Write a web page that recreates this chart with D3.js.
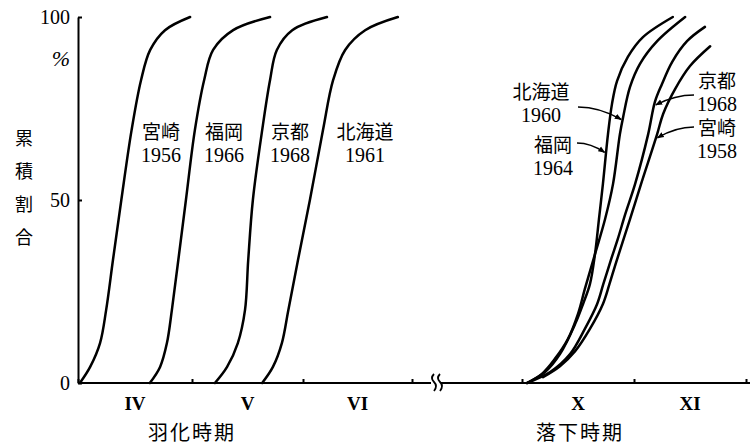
<!DOCTYPE html>
<meta charset="utf-8">
<script src="https://d3js.org/d3.v7.min.js"></script>
<style>
body { margin: 0; background: #fff; }
svg { display: block; }
.curve { fill: none; stroke: #000; stroke-width: 2.5px; stroke-linecap: round; }
.axis path, .axis line { stroke: #000; stroke-width: 2px; }
.num { font-family: "Liberation Serif", serif; font-size: 20px; fill: #000; }
.kanji { font-family: "Noto Sans CJK JP", sans-serif; font-size: 19px; fill: #000; }
.roman { font-family: "Liberation Serif", serif; font-size: 19px; font-weight: bold; }
</style>
<div id="chart"></div>
<script>
// x values are day of year (Apr 1 = 91 ... Dec 1 = 335), y values are cumulative %
var monthDays = [91, 121, 152, 182, 274, 305, 335];
var monthNames = ["IV", "V", "VI", "X", "XI"];
var monthSpans = [[91, 121], [121, 152], [152, 182], [274, 305], [305, 335]];
var yTicks = [0, 50, 100];

// 羽化時期 (emergence)
var miyazaki1956 = [[91.5,0],[94.2,4.4],[96.8,10.9],[98.4,19.9],[100.2,33.6],[102.4,50],[105.1,69.1],[107.6,82.8],[110.0,91],[113.9,96.4],[120.5,100]];
var fukuoka1966  = [[109.9,0],[112.6,4.4],[114.4,10.9],[115.7,19.9],[117.4,33.6],[119.4,50],[121.8,69.1],[124.4,82.8],[126.9,91],[132.5,96.4],[142.8,100]];
var kyoto1968    = [[127.4,0],[130.8,4.4],[133.8,10.9],[135.8,19.9],[136.7,33.6],[138.0,50],[140.6,69.1],[142.8,82.8],[144.7,91],[149.0,96.4],[158.6,100]];
var hokkaido1961 = [[140.6,0],[143.6,4.4],[146.1,10.9],[147.9,19.9],[150.6,33.6],[153.9,50],[157.5,69.1],[160.3,82.8],[163.6,91],[169.1,96.4],[178.1,100]];

// 落下時期 (drop)
var fukuoka1964  = [[275.4,0],[280.4,3.0],[284.5,7.9],[288.7,16.1],[290.9,21.6],[292.8,27.0],[294.2,35.2],[295.3,44.8],[296.4,54.4],[297.8,68.0],[298.9,76.2],[300.3,82.5],[303.3,89.1],[307.4,94.5],[315.4,100]];
var hokkaido1960 = [[275.4,0],[279.5,2.5],[283.1,6.6],[286.7,12.0],[289.5,18.9],[291.4,25.7],[294.2,35.2],[297.0,44.8],[299.2,54.4],[301.1,68.0],[302.0,72.7],[303.9,80.9],[306.6,87.2],[311.2,93.4],[318.7,100]];
var kyoto1968b   = [[275.4,0],[281.8,3.0],[287.3,7.9],[291.4,14.8],[294.8,21.6],[296.5,27.0],[298.7,33.9],[300.5,39.3],[302.6,46.2],[305.3,54.4],[308.8,68.0],[310.6,76.8],[312.5,81.7],[315.2,87.7],[319.2,93.4],[324.0,97.3]];
var miyazaki1958 = [[279.8,1.6],[284.5,4.6],[288.7,8.7],[292.8,14.8],[296.4,21.6],[298.2,27.0],[299.9,32.5],[303.9,44.8],[306.9,54.4],[311.2,68.0],[312.8,73.5],[316.0,80.3],[320.0,86.6],[325.4,92.0]];

var allSeries = [miyazaki1956, fukuoka1966, kyoto1968, hokkaido1961,
                 fukuoka1964, hokkaido1960, kyoto1968b, miyazaki1958];

// labels inside the left panel
var leftNames = ["宮崎", "福岡", "京都", "北海道"];
var leftYears = ["1956", "1966", "1968", "1961"];
// labels with arrows in the right panel
var rightNames = ["北海道", "福岡", "京都", "宮崎"];
var rightYears = ["1960", "1964", "1968", "1958"];
var rightTargets = [72, 63, 76, 67];

var width = 750, height = 445;

var svg = d3.select("#chart").append("svg")
  .attr("width", width)
  .attr("height", height);

// piecewise scale, Jul..Oct squeezed into the break
var x = d3.scaleLinear()
  .domain(monthDays)
  .range([78, 192, 303, 412, 522, 634, 746]);
var y = d3.scaleLinear()
  .domain([0, 100])
  .range([383, 17]);

// x axis
var xAxis = svg.append("g")
  .attr("class", "axis")
  .attr("transform", "translate(0," + y(0) + ")")
  .call(d3.axisBottom(x).tickValues(monthDays).tickSize(-4).tickSizeOuter(0).tickFormat(""));
xAxis.select(".domain").attr("d", "M" + x(91) + ",0H" + width);

// y axis
var yAxis = svg.append("g")
  .attr("class", "axis")
  .attr("transform", "translate(" + x(91) + ",0)")
  .call(d3.axisLeft(y).tickValues(yTicks).tickSize(-4).tickSizeOuter(0).tickPadding(8));
yAxis.selectAll("text")
  .attr("class", "num")
  .attr("font-family", null)
  .attr("font-size", null);
yAxis.attr("font-family", null).attr("font-size", null);

svg.append("text")
  .attr("x", 70).attr("y", 66)
  .attr("text-anchor", "end")
  .style("font-family", "Liberation Serif, serif")
  .style("font-style", "italic")
  .style("font-size", "22px")
  .text("%");

// axis break
var bx = 436;
svg.append("rect")
  .attr("x", bx - 5).attr("y", y(0) - 3)
  .attr("width", 10).attr("height", 6)
  .attr("fill", "#fff");
[bx - 3, bx + 3].forEach(function(px) {
  svg.append("path")
    .attr("d", "M" + (px + 1) + "," + (y(0) - 9) + " q -4,4 0,8 t 0,9")
    .attr("fill", "none")
    .attr("stroke", "#000")
    .attr("stroke-width", 1.8);
});

// month labels
svg.append("g").selectAll("text")
  .data(monthNames)
  .enter().append("text")
    .attr("class", "roman")
    .attr("x", function(d, i) { return x((monthSpans[i][0] + monthSpans[i][1]) / 2); })
    .attr("y", 410)
    .attr("text-anchor", "middle")
    .text(function(d) { return d; });

// axis titles
svg.append("text")
  .attr("class", "kanji")
  .attr("x", 192).attr("y", 440)
  .attr("text-anchor", "middle")
  .style("font-size", "20px")
  .style("letter-spacing", "2px")
  .text("羽化時期");
svg.append("text")
  .attr("class", "kanji")
  .attr("x", 580).attr("y", 440)
  .attr("text-anchor", "middle")
  .style("font-size", "20px")
  .style("letter-spacing", "2px")
  .text("落下時期");

svg.append("g").selectAll("text")
  .data("累積割合".split(""))
  .enter().append("text")
    .attr("class", "kanji")
    .attr("x", 24)
    .attr("y", function(d, i) { return 145 + i * 33; })
    .attr("text-anchor", "middle")
    .style("font-size", "18px")
    .text(function(d) { return d; });

// curves
var line = d3.line()
  .x(function(d) { return x(d[0]); })
  .y(function(d) { return y(d[1]); })
  .curve(d3.curveCatmullRom.alpha(0.5));

svg.append("g").selectAll("path")
  .data(allSeries)
  .enter().append("path")
    .attr("class", "curve")
    .attr("d", line);

// left labels
var leftCx = [161, 224, 290, 365];
leftNames.forEach(function(n, i) {
  svg.append("text").attr("class", "kanji")
    .attr("x", leftCx[i]).attr("y", 139)
    .attr("text-anchor", "middle").text(n);
  svg.append("text").attr("class", "num")
    .attr("x", leftCx[i]).attr("y", 162)
    .attr("text-anchor", "middle").text(leftYears[i]);
});

// right labels with arrows
var rightSeries = [hokkaido1960, fukuoka1964, kyoto1968b, miyazaki1958];
var rightPos = [
  {x: 541, y: 99, ax: 578, ay: 107, side: 1},
  {x: 553, y: 152, ax: 577, ay: 143, side: 1},
  {x: 717, y: 88, ax: 694, ay: 95, side: -1},
  {x: 717, y: 135, ax: 694, ay: 127, side: -1}
];

function dayAt(series, p) {
  for (var i = 1; i < series.length; i++) {
    var a = series[i - 1], b = series[i];
    if (p >= a[1] && p <= b[1]) {
      return a[0] + (b[0] - a[0]) * (p - a[1]) / (b[1] - a[1]);
    }
  }
  return series[series.length - 1][0];
}

svg.append("defs").append("marker")
  .attr("id", "arrow")
  .attr("viewBox", "0 0 10 10")
  .attr("refX", 9).attr("refY", 5)
  .attr("markerWidth", 7).attr("markerHeight", 7)
  .attr("markerUnits", "userSpaceOnUse")
  .attr("orient", "auto")
  .append("path")
    .attr("d", "M0,1 L10,5 L0,9 Z")
    .attr("fill", "#000");

rightNames.forEach(function(n, i) {
  var p = rightPos[i];
  svg.append("text").attr("class", "kanji")
    .attr("x", p.x).attr("y", p.y)
    .attr("text-anchor", "middle").text(n);
  svg.append("text").attr("class", "num")
    .attr("x", p.x).attr("y", p.y + 23)
    .attr("text-anchor", "middle").text(rightYears[i]);

  var tx = x(dayAt(rightSeries[i], rightTargets[i])) - p.side * 1.5;
  var ty = y(rightTargets[i]);
  var cx = (p.ax + tx) / 2;
  svg.append("path")
    .attr("d", "M" + p.ax + "," + p.ay + " Q" + cx + "," + p.ay + " " + tx + "," + ty)
    .attr("fill", "none")
    .attr("stroke", "#000")
    .attr("stroke-width", 1.6)
    .attr("marker-end", "url(#arrow)");
});
</script>
